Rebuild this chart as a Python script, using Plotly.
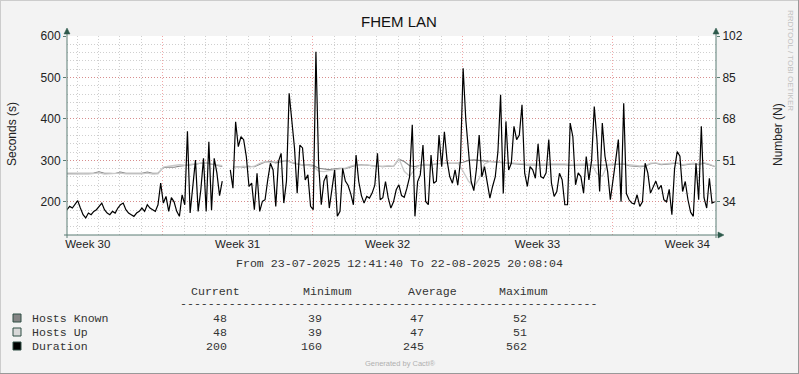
import pandas as pd
import plotly.graph_objects as go

# ---------------- data ----------------
title_text = "FHEM LAN"
start_time = "2025-07-23 12:41:40"
end_time = "2025-08-22 20:08:04"

# Duration (s), one value per 3 hours
duration_s = [
    181, 189, 185, 193, 203, 185, 169, 161, 173, 169, 177, 181, 190, 197, 181, 173, 169, 177, 173, 185,
    193, 197, 181, 173, 169, 165, 173, 177, 185, 177, 193, 185, 181, 177, 193, 245, 197, 213, 177, 210,
    200, 177, 165, 217, 193, 370, 173, 241, 301, 177, 229, 305, 177, 345, 180, 305, 270, 215, 250, None,
    None, 277, 233, 393, 333, 357, 350, 309, 237, 245, 181, 269, 177, 201, 205, 253, 293, 277, 189, 297,
    317, 197, 250, 462, 398, 330, 221, 337, 330, 253, 265, 189, 181, 562, 293, 193, 250, 265, 185, 230,
    277, 165, 177, 281, 250, 240, 220, 193, 313, 249, 215, 197, 213, 209, 221, 240, 317, 205, 210, 249,
    210, 185, 200, 229, 241, 215, 211, 233, 260, 386, 165, 249, 265, 337, 201, 193, 313, 245, 250, 361,
    285, 369, 300, 261, 245, 277, 240, 299, 522, 398, 320, 249, 227, 281, 361, 260, 285, 250, 209, 237,
    260, 321, 458, 220, 394, 277, 293, 382, 350, 361, 434, 269, 237, 285, 277, 257, 340, 261, 257, 270,
    350, 245, 213, 225, 269, 253, 193, 193, 390, 357, 241, 270, 261, 221, 309, 253, 300, 430, 350, 225,
    390, 310, 273, 205, 247, 300, 350, 200, 438, 220, 205, 197, 195, 217, 189, 200, 293, 270, 221, 235,
    250, 230, 240, 205, 200, 230, 169, 280, 321, 310, 225, 249, 205, 175, 165, 293, 205, 382, 210, 185,
    257, 197, 200,
]

# Hosts (N), one value per 6 hours
hosts_known = [
    45.7, 45.7, 45.8, 45.7, 45.7, 45.8, 46.3, 45.7, 45.7, 45.6, 46.2, 45.7, 45.7, 45.6, 45.7, 46.2, 45.7, 45.8,
    48.0, 48.3, 48.2, 48.6, 48.8, 49.0, 49.4, 49.8, 50.0, 49.4, 48.9, 48.5,
    None,
    48.3, 48.5, 48.2, 48.6, 48.4, 49.5, 50.3, 50.6, 50.0, 50.5, 51.0, 50.0, 49.5, 49.0, 49.2, 49.0, 47.8, 47.5,
    47.2, 47.5, 47.8, 47.6, 48.4, 49.0, 49.2, 49.0, 48.6, 48.5, 48.4, 48.6, 48.5,
    51.5, 50.5, 48.8, 48.5, 49.0, 49.2, 49.0, 49.6, 49.8, 49.8, 50.0, 49.8, 50.2, 51.0, 51.2, 51.0, 50.8, 50.5,
    50.2, 50.0, 49.8,
    49.5, 49.4, 49.2, 49.1, 49.2, 49.0, 49.1, 49.2, 49.3, 49.1, 49.2, 49.0, 49.1, 49.3, 49.2, 49.1, 49.0, 49.2,
    49.1, 49.2,
    49.3, 49.5, 48.8, 48.5, 48.4, 48.6, 49.6, 49.8, 49.2, 49.4, 49.6, 49.8, 49.0, 49.2, 49.6, 49.3, 49.8, 49.2,
    48.5,
]
hosts_up = [
    45.4, 45.5, 45.4, 45.5, 45.4, 45.5, 45.9, 45.4, 45.5, 45.4, 45.8, 45.5, 45.4, 45.4, 45.5, 45.8, 45.4, 45.5,
    48.2, 48.6, 48.9, 49.2, 49.0, 49.3, 49.6, 50.0, 50.2, 49.6, 49.2, 48.8,
    None,
    48.5, 48.3, 48.6, 48.2, 48.6, 49.8, 50.5, 50.2, 50.4, 50.8, 50.8, 50.2, 49.8, 49.2, 49.0, 48.4, 46.6, 46.4,
    46.8, 47.2, 47.6, 47.8, 48.6, 49.2, 49.0, 49.2, 48.8, 48.6, 48.6, 48.8, 48.6,
    51.8, 46.5, 44.5, 47.5, 49.2, 49.4, 49.2, 49.8, 49.6, 50.0, 49.8, 50.0, 46.5, 42.5, 40.0, 43.5, 49.5, 50.6,
    50.4, 50.2, 50.0,
    49.8, 49.7, 49.6, 49.5, 49.6, 49.4, 49.5, 49.6, 49.7, 49.5, 49.6, 49.4, 49.5, 49.7, 49.6, 49.5, 45.5, 44.5,
    49.4, 49.6,
    49.6, 49.8, 49.2, 48.8, 48.7, 48.9, 49.9, 50.0, 49.5, 49.7, 49.9, 50.1, 49.3, 49.5, 49.9, 49.6, 50.1, 49.5,
    48.5,
]

week_labels = ["Week 30", "Week 31", "Week 32", "Week 33", "Week 34"]
week_label_times = ["2025-07-24 12:00", "2025-07-31 12:00", "2025-08-07 12:00",
                    "2025-08-14 12:00", "2025-08-21 12:00"]
left_ticks = [200, 300, 400, 500, 600]
right_ticks = [34, 51, 68, 85, 102]

legend_names = ["Hosts Known", "Hosts Up", "Duration"]
stat_headers = ["Current", "Minimum", "Average", "Maximum"]
known_stats = ["48", "39", "47", "52"]
up_stats = ["48", "39", "47", "51"]
duration_stats = ["200", "160", "245", "562"]

# ---------------- styling ----------------
C_KNOWN = "#858585"
C_UP = "#cacaca"
C_DUR = "#000000"
C_AXIS = "#5b7d74"
C_ARROW = "#2e5a4c"
C_MINOR = "#cfcfcf"
C_MAJOR = "rgba(225,60,60,0.45)"
SANS = "Liberation Sans"
MONO = "Liberation Mono"

L, R, T, B = 67, 716, 36, 235
W, H = R - L, B - T


def px(x):
    return (x - L) / W


def py(y):
    return (B - y) / H


dur_times = pd.date_range(start_time, periods=len(duration_s), freq="3h")
host_times = pd.date_range(start_time, periods=len(hosts_known), freq="6h")
days = pd.date_range("2025-07-24", "2025-08-22", freq="D")
mondays = [d for d in days if d.weekday() == 0]
other_days = [d for d in days if d.weekday() != 0]

fig = go.Figure()
fig.add_trace(go.Scatter(x=host_times, y=hosts_known, mode="lines", name="Hosts Known",
                         line=dict(color=C_KNOWN, width=1.1), xaxis="x", yaxis="y",
                         connectgaps=False, hoverinfo="skip"))
fig.add_trace(go.Scatter(x=host_times, y=hosts_up, mode="lines", name="Hosts Up",
                         line=dict(color=C_UP, width=1.3), xaxis="x", yaxis="y",
                         connectgaps=False, hoverinfo="skip"))
fig.add_trace(go.Scatter(x=dur_times, y=duration_s, mode="lines", name="Duration",
                         line=dict(color=C_DUR, width=1.2), xaxis="x2", yaxis="y2",
                         connectgaps=False, hoverinfo="skip"))

tickfont = dict(family=SANS, size=12, color="#222222")

fig.update_layout(
    width=799, height=374, autosize=False,
    margin=dict(l=L, r=799 - R, t=T, b=374 - B, pad=0),
    paper_bgcolor="#F3F3F3", plot_bgcolor="#FFFFFF",
    showlegend=False,
    xaxis=dict(type="date", range=[start_time, end_time], tickmode="array", tickvals=mondays,
               showticklabels=False, ticks="", showgrid=True, gridcolor=C_MAJOR,
               griddash="1px,2px", gridwidth=1, zeroline=False, showline=False, fixedrange=True),
    xaxis2=dict(type="date", overlaying="x", range=[start_time, end_time], tickmode="array",
                tickvals=week_label_times, ticktext=week_labels, side="bottom",
                showgrid=False, ticks="", tickfont=dict(family=SANS, size=11.5, color="#222222"),
                zeroline=False, showline=False,
                minor=dict(tickvals=other_days, showgrid=True, gridcolor=C_MINOR,
                           griddash="1px,2px", gridwidth=1)),
    yaxis=dict(range=[20.4, 102], side="right", tickmode="array", tickvals=right_ticks,
               showgrid=False, zeroline=False, showline=False, ticks="outside", ticklen=3,
               tickcolor=C_AXIS, tickfont=tickfont),
    yaxis2=dict(range=[120, 600], side="left", overlaying="y", tickmode="array",
                tickvals=left_ticks, showgrid=True, gridcolor=C_MAJOR, griddash="1px,2px",
                gridwidth=1, zeroline=False, showline=False, ticks="outside", ticklen=3,
                tickcolor=C_AXIS, tickfont=tickfont,
                minor=dict(tickmode="linear", tick0=0, dtick=20, showgrid=True,
                           gridcolor=C_MINOR, griddash="1px,2px", gridwidth=1)),
)

shapes = []
# image border
shapes.append(dict(type="line", xref="paper", yref="paper", x0=px(0), x1=px(799), y0=py(0.5), y1=py(0.5),
                   line=dict(color="#cccccc", width=1)))
shapes.append(dict(type="line", xref="paper", yref="paper", x0=px(0.5), x1=px(0.5), y0=py(0), y1=py(374),
                   line=dict(color="#cccccc", width=1)))
shapes.append(dict(type="line", xref="paper", yref="paper", x0=px(0), x1=px(799), y0=py(373.5), y1=py(373.5),
                   line=dict(color="#999999", width=1)))
shapes.append(dict(type="line", xref="paper", yref="paper", x0=px(798.5), x1=px(798.5), y0=py(0), y1=py(374),
                   line=dict(color="#999999", width=1)))
# axis lines
shapes.append(dict(type="line", xref="paper", yref="paper", x0=px(67), x1=px(67), y0=py(238), y1=py(31),
                   line=dict(color=C_AXIS, width=1)))
shapes.append(dict(type="line", xref="paper", yref="paper", x0=px(716), x1=px(716), y0=py(238), y1=py(31),
                   line=dict(color=C_AXIS, width=1)))
shapes.append(dict(type="line", xref="paper", yref="paper", x0=px(64), x1=px(721), y0=py(235), y1=py(235),
                   line=dict(color=C_AXIS, width=1)))


def tri(points):
    p = "M " + " L ".join(f"{px(a):.5f},{py(b):.5f}" for a, b in points) + " Z"
    return dict(type="path", xref="paper", yref="paper", path=p, fillcolor=C_ARROW,
                line=dict(color=C_ARROW, width=0.5))


shapes.append(tri([(67, 28), (64, 34), (70, 34)]))
shapes.append(tri([(716, 28), (713, 34), (719, 34)]))
shapes.append(tri([(724, 235), (718, 232), (718, 238)]))

# legend squares
legend_colors = [C_KNOWN, "#d8d8d8", C_DUR]
row_y = [318, 332, 346]
for c, ry in zip(legend_colors, row_y):
    shapes.append(dict(type="rect", xref="paper", yref="paper", x0=px(13), x1=px(21),
                       y0=py(ry + 4), y1=py(ry - 4), fillcolor=c,
                       line=dict(color="#2f4f45", width=1)))
fig.update_layout(shapes=shapes)

ann = []


def text(x, y, s, size, color="#222222", family=SANS, xanchor="center", angle=0, height=None):
    a = dict(x=px(x), y=py(y), xref="paper", yref="paper", text=s, showarrow=False,
             xanchor=xanchor, yanchor="middle", textangle=angle,
             font=dict(family=family, size=size, color=color))
    if height is not None:
        a["height"] = height
    ann.append(a)


text(399, 22, title_text, 15, "#111111")
text(12, 134, "Seconds (s)", 12, "#222222", angle=-90)
text(778, 135, "Number (N)", 12, "#222222", angle=-90)
text(790, 60, "RRDTOOL / TOBI OETIKER", 8, "#c2c2c2", angle=90)
text(399, 263, f"From {pd.Timestamp(start_time):%d-%m-%Y %H:%M:%S} To {pd.Timestamp(end_time):%d-%m-%Y %H:%M:%S}",
     11.6, "#333333", MONO)

header_x = [215, 327, 432, 523]
for hx, h in zip(header_x, stat_headers):
    text(hx, 291, h, 11.6, "#333333", MONO, height=11)
text(178, 303, "-" * 60, 11.6, "#333333", MONO, xanchor="left", height=7)

value_x = [229, 324, 426, 529]
for name, vals, ry in zip(legend_names, [known_stats, up_stats, duration_stats], row_y):
    text(30, ry, name, 11.6, "#333333", MONO, xanchor="left", height=12)
    for vx, v in zip(value_x, vals):
        text(vx, ry, v, 11.6, "#333333", MONO, xanchor="right", height=12)

text(400, 363, "Generated by Cacti®", 7.5, "#b0b0b0")
fig.update_layout(annotations=ann)

fig.write_html("out.html", config={"displayModeBar": False, "staticPlot": True},
               post_script="document.body.style.margin='0';document.body.style.padding='0';")
